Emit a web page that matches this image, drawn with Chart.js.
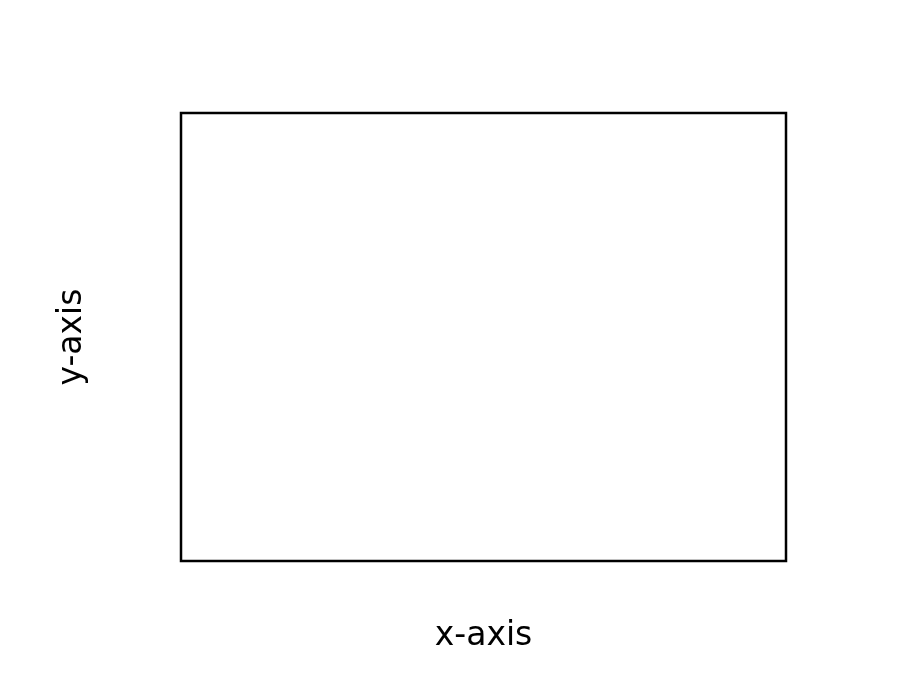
<!DOCTYPE html>
<html>
<head>
<meta charset="utf-8">
<title>Empty axes</title>
<script src="https://cdn.jsdelivr.net/npm/chart.js@4.4.1/dist/chart.umd.min.js"></script>
<style>
  html, body { margin: 0; padding: 0; background: #fff; }
  #wrap { width: 900px; height: 675px; }
</style>
</head>
<body>
<div id="wrap"><canvas id="grafico" width="900" height="675"></canvas></div>
<script>
// the reference shows an empty plot: no points, no ticks
const categorias = [];
const valores = [];
const tituloX = "x-axis";
const tituloY = "y-axis";

// moldura preta em volta da área do gráfico
const moldura = {
  id: 'moldura',
  afterDraw(chart) {
    const { ctx, chartArea: a } = chart;
    ctx.save();
    ctx.strokeStyle = '#000';
    ctx.lineWidth = 2.5;
    ctx.strokeRect(a.left, a.top, a.right - a.left, a.bottom - a.top);
    ctx.restore();
  }
};

const fonte = { family: "'DejaVu Sans', sans-serif", size: 33 };

new Chart(document.getElementById('grafico').getContext('2d'), {
  type: 'scatter',
  data: {
    datasets: [{
      label: 'dados',
      data: categorias.map((c, i) => ({ x: c, y: valores[i] })),
      backgroundColor: '#1f77b4'
    }]
  },
  options: {
    responsive: false,
    animation: false,
    devicePixelRatio: 1,
    layout: { padding: { top: 113, right: 114, left: 0, bottom: 0 } },
    plugins: { legend: { display: false }, tooltip: { enabled: false } },
    scales: {
      x: {
        ticks: { display: false },
        grid: { display: false },
        border: { display: false },
        title: { display: true, text: tituloX, color: '#000', font: fonte, padding: { top: 0, bottom: 19 } },
        afterFit(axis) { axis.height = 114; }
      },
      y: {
        ticks: { display: false },
        grid: { display: false },
        border: { display: false },
        title: { display: true, text: tituloY, color: '#000', font: fonte, padding: { top: 53, bottom: 0 } },
        afterFit(axis) { axis.width = 181; }
      }
    }
  },
  plugins: [moldura]
});
</script>
</body>
</html>
